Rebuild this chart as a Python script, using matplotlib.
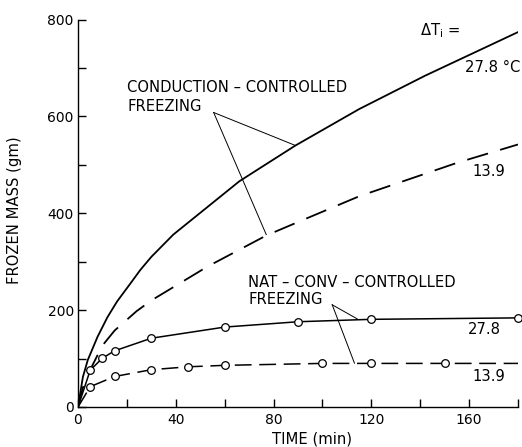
import numpy as np
import matplotlib
matplotlib.use('Agg')
from matplotlib import pyplot as plt
from matplotlib.ticker import MultipleLocator

# conduction-controlled freezing, dT = 27.8 (solid) and 13.9 (dashed)
cond_hi_t = [0, 2, 4, 8, 12, 16, 21, 25.5, 30, 39, 66, 75, 89, 115, 142, 180]
cond_hi_m = [0, 62, 97, 145, 185, 218, 252, 283, 310, 356, 466, 495, 540, 615, 684, 774]
cond_lo_t = [0, 2, 5, 10, 15, 24, 30, 53, 77, 91, 115, 155, 180]
cond_lo_m = [0, 40, 77, 127, 158, 198, 220, 290, 354, 384, 435, 504, 542]

# natural-convection-controlled freezing (measured points)
nat_hi_t = [0, 5, 10, 15, 30, 60, 90, 120, 180]
nat_hi_m = [0, 76, 101, 116, 142, 165, 176, 181, 184]
nat_lo_t = [0, 5, 15, 30, 45, 60, 100, 120, 150, 180]
nat_lo_m = [0, 42, 63, 77, 83, 86, 90, 90, 90, 90]
nat_lo_marks = [False, True, True, True, True, True, True, True, True, False]

fs = 10.6
fig = plt.figure(figsize=(5.22, 4.47), dpi=100)
ax = fig.add_axes([78/522, 1-407/447, 440/522, (407-19.5)/447])

lw = 1.3
ax.plot(cond_hi_t, cond_hi_m, color='black', lw=lw)
ax.plot(cond_lo_t, cond_lo_m, color='black', lw=lw, dashes=(12, 7))
ax.plot(nat_hi_t, nat_hi_m, color='black', lw=1.1)
ax.plot(nat_hi_t[1:], nat_hi_m[1:], 'o', ms=5.5, mfc='white', mec='black', mew=0.9, clip_on=False)
ax.plot(nat_lo_t, nat_lo_m, color='black', lw=1.1, dashes=(11, 5))
mt = [t for t, k in zip(nat_lo_t, nat_lo_marks) if k]
mm = [m for m, k in zip(nat_lo_m, nat_lo_marks) if k]
ax.plot(mt, mm, 'o', ms=5.5, mfc='white', mec='black', mew=0.9)

# labels and leader lines
ax.text(20.2, 660, 'CONDUCTION – CONTROLLED', fontsize=fs, va='center')
ax.text(20.2, 621, 'FREEZING', fontsize=fs, va='center')
ax.plot([55.5, 88.9], [608, 540], color='black', lw=0.7)
ax.plot([55.5, 77], [608, 356], color='black', lw=0.7)

ax.text(69.7, 257, 'NAT – CONV – CONTROLLED', fontsize=fs, va='center')
ax.text(69.7, 221, 'FREEZING', fontsize=fs, va='center')
ax.plot([104, 114.2], [211, 182], color='black', lw=0.7)
ax.plot([104, 113.1], [211, 90.5], color='black', lw=0.7)

ax.text(140, 776, r'ΔT$_\mathrm{i}$ =', fontsize=fs, va='center')
ax.text(158.3, 701, '27.8 °C', fontsize=fs, va='center')
ax.text(161.2, 486, '13.9', fontsize=fs, va='center')
ax.text(159.6, 159, '27.8', fontsize=fs, va='center')
ax.text(161.2, 62, '13.9', fontsize=fs, va='center')

ax.set_xlim(0, 180)
ax.set_ylim(0, 800)
ax.xaxis.set_major_locator(MultipleLocator(40))
ax.xaxis.set_minor_locator(MultipleLocator(20))
ax.yaxis.set_major_locator(MultipleLocator(200))
ax.yaxis.set_minor_locator(MultipleLocator(100))
ax.tick_params(which='both', direction='in', length=6, width=1.0, labelsize=10)
ax.tick_params(axis='y', pad=3)
ax.tick_params(axis='x', pad=4)
for s in ['top', 'right']:
    ax.spines[s].set_visible(False)
for s in ['left', 'bottom']:
    ax.spines[s].set_linewidth(1.0)

fig.text(15/522, 1-210/447, 'FROZEN MASS (gm)', rotation=90, fontsize=fs, ha='center', va='center')
fig.text(312/522, 1-439/447, 'TIME (min)', fontsize=fs, ha='center', va='center')

fig.savefig('out.png', dpi=100)
